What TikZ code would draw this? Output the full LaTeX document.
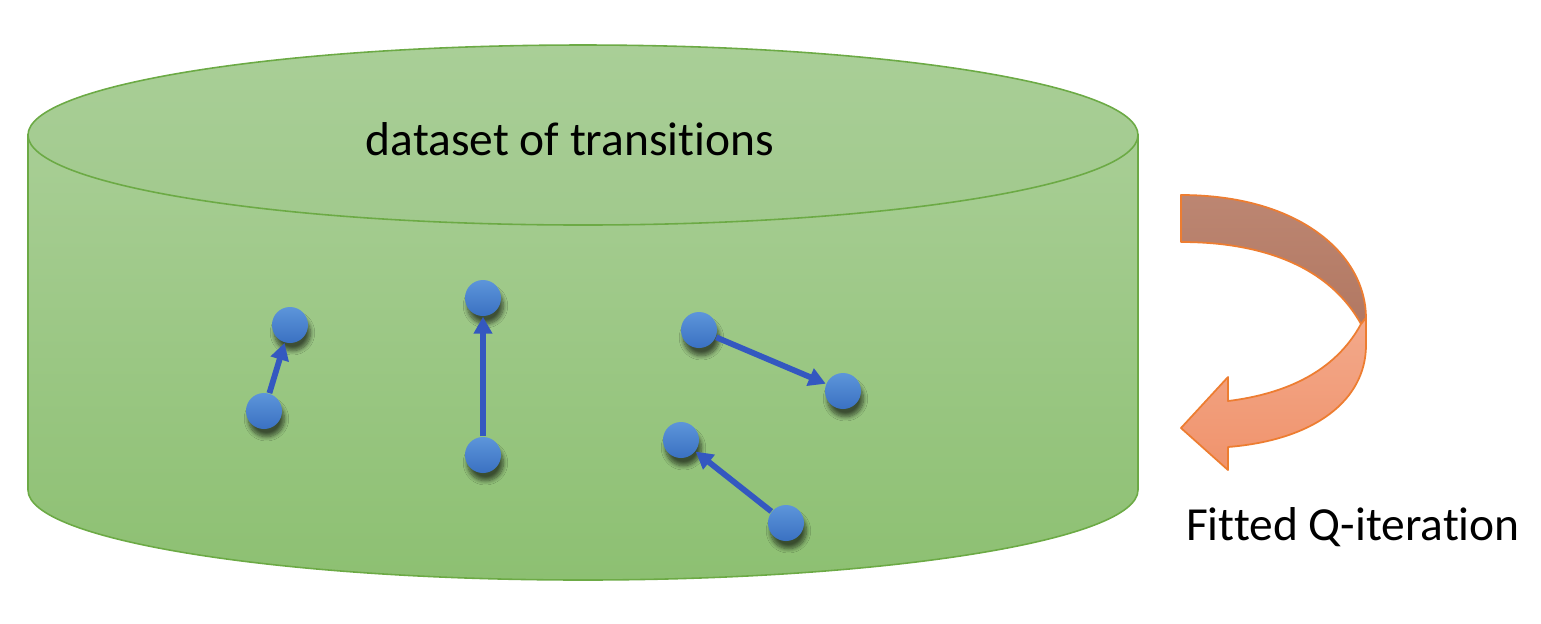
\documentclass[tikz,border=0pt]{standalone}
\usepackage{fontspec}
\setmainfont{Carlito}[Ligatures=NoCommon]
\usetikzlibrary{arrows.meta,shadows.blur}
\definecolor{cylEdge}{HTML}{6CAA45}
\definecolor{capTop}{HTML}{A9CF97}
\definecolor{capBot}{HTML}{A1C98D}
\definecolor{bodyTop}{HTML}{A8CE95}
\definecolor{bodyBot}{HTML}{8DC072}
\definecolor{dotTop}{HTML}{5D95DA}
\definecolor{dotBot}{HTML}{3A71C2}
\definecolor{arrowBlue}{HTML}{3458C0}
\definecolor{orEdge}{HTML}{ED7D31}
\definecolor{brTop}{HTML}{BC8672}
\definecolor{brBot}{HTML}{B27862}
\definecolor{saTop}{HTML}{F3A98B}
\definecolor{saBot}{HTML}{F0936C}
\begin{document}
\begin{tikzpicture}[x=0.01cm,y=-0.01cm,
  dot/.style={circle, minimum size=0.36cm, inner sep=0pt, draw=none,
    top color=dotTop, bottom color=dotBot,
    blur shadow={shadow xshift=0.7pt, shadow yshift=-2.2pt, shadow blur radius=1.2pt, shadow blur steps=8, shadow opacity=60}},
  trans/.style={draw=arrowBlue, line width=0.058cm, -{Triangle[length=0.17cm,width=0.18cm]}},
  label/.style={font=\fontsize{13.5pt}{16pt}\selectfont, inner sep=0pt, anchor=base, text=black},
  cyl/.style={draw=cylEdge, line width=0.45pt},
  band/.style={draw=orEdge, line width=0.5pt, line join=round}
]
\useasboundingbox (0,0) rectangle (1541,623);
% cylinder body
\path[cyl, top color=bodyTop, bottom color=bodyBot]
  (28,135) -- (28,490) arc[start angle=180, end angle=0, x radius=555, y radius=90] -- (1138,135) -- cycle;
% top cap
\path[cyl, top color=capTop, bottom color=capBot] (583,135) ellipse [x radius=555, y radius=90];
\node[label] (title) at (570,155) {dataset of transitions};
% curved arrow: upper band
\path[band, top color=brTop, bottom color=brBot]
  (1181,195) .. controls (1300,195) and (1366,255) .. (1366,318)
  -- (1361,324) .. controls (1330,268) and (1265,242) .. (1181,242) -- cycle;
% curved arrow: lower band with head
\path[band, top color=saTop, bottom color=saBot]
  (1361,324) .. controls (1335,372) and (1285,394) .. (1228,401)
  -- (1228,377) -- (1181,428) -- (1228,470) -- (1228,447)
  .. controls (1315,440) and (1366,400) .. (1366,345) -- (1366,318) -- cycle;
\node[label] (fqi) at (1353,540) {Fitted Q-iteration};
% transitions
\node[dot] (a1) at (264,411) {};
\node[dot] (a2) at (290,325) {};
\node[dot] (b1) at (483,455) {};
\node[dot] (b2) at (483,298) {};
\node[dot] (c1) at (699,330) {};
\node[dot] (c2) at (843,391) {};
\node[dot] (d1) at (786,523) {};
\node[dot] (d2) at (681,440) {};
\draw[trans] (a1) -- (a2);
\draw[trans] (b1) -- (b2);
\draw[trans] (c1) -- (c2);
\draw[trans] (d1) -- (d2);
\end{tikzpicture}
\end{document}
